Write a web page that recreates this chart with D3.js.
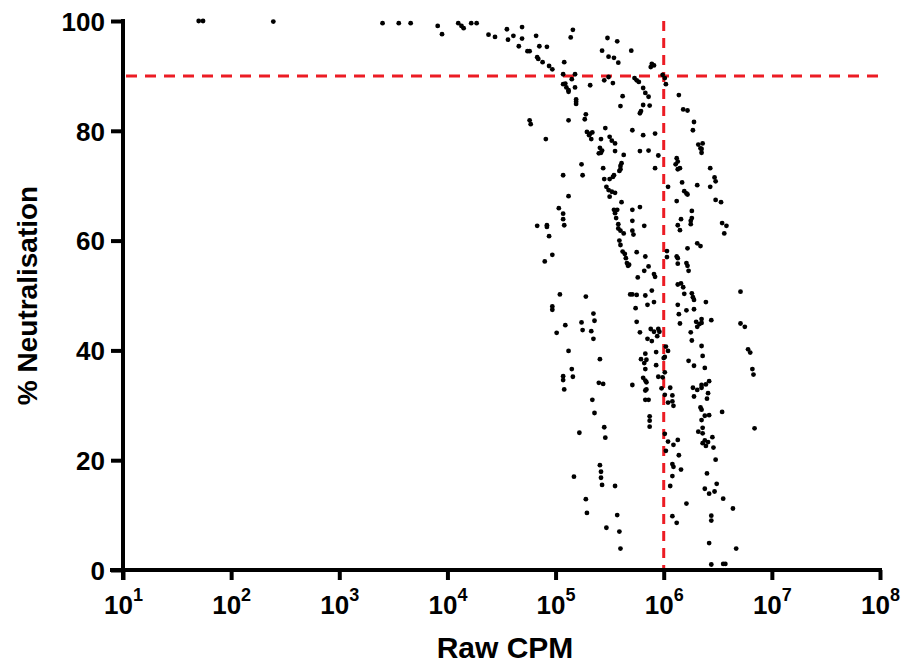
<!DOCTYPE html>
<html><head><meta charset="utf-8">
<script src="https://cdn.jsdelivr.net/npm/d3@7"></script>
<style>
html,body{margin:0;padding:0;background:#fff;}
svg{display:block;}
text{font-family:"Liberation Sans",Arial,sans-serif;font-weight:bold;fill:#000;}
.ax path,.ax line{stroke:#000;stroke-width:4px;}
</style></head>
<body>
<svg id="chart" width="905" height="666"></svg>
<script>
// [log10(Raw CPM), % Neutralisation]
const samples = [
[1.70,100],[1.74,100],[2.39,99.9],[3.40,99.6],[3.55,99.6],[3.66,99.6],[3.91,99.1],[3.95,97.6],[4.10,99.6],[4.13,99.1],[4.15,98.7],[4.22,99.6],[4.27,99.6],[4.38,97.5],[4.44,97.1],
[4.55,98.5],[4.56,96.6],[4.61,97.3],[4.69,98.9],[4.69,96.8],[4.66,95.4],[4.82,97.3],[4.85,95.4],[4.92,95.3],[4.74,94.5],[4.76,94.5],[4.83,93.4],[4.84,93.1],[4.88,92.5],[4.94,91.8],[4.97,91.2],[5.16,98.4],[5.14,97.0],[5.08,92.5],[5.07,90.3],[5.18,90.3],[5.15,89.4],[5.07,88.5],[5.09,88.6],[5.10,87.9],[5.12,87.4],[5.12,87.1],[5.18,87.9],[5.32,88.3],[5.19,85.7],[5.19,85.3],[5.19,84.9],[5.28,83.0],[5.27,82.1],[5.12,81.9],[4.76,81.9],[4.77,81.2],[5.29,79.8],[5.32,79.5],[5.34,79.7],[5.31,79.2],[5.33,78.5],[4.91,78.5],[5.24,73.9],[5.07,71.9],[5.25,71.9],[5.12,68.1],
[5.03,65.9],[5.07,64.9],[5.07,63.9],[5.08,62.8],[4.83,62.7],[4.92,62.8],[4.92,62.5],[4.94,60.8],[4.97,57.4],[4.90,56.2],[5.04,50.2],[5.28,49.8],[4.97,48.0],[4.97,47.4],[5.35,46.7],[5.36,45.4],[5.24,45.1],[5.09,44.6],[5.01,43.2],[5.25,43.7],[5.33,43.5],[5.35,42.1],[5.12,39.9],[5.15,36.6],[5.07,35.3],[5.07,34.6],[5.16,35.2],
[5.08,32.9],[5.40,34.1],[5.34,31.0],[5.36,28.6],[5.22,25.0],[5.41,19.1],[5.42,17.9],[5.17,17.0],[5.28,12.9],[5.29,10.4],[5.41,38.4],
[5.48,96.9],[5.57,96.3],[5.43,94.6],[5.70,94.6],[5.49,93.5],[5.54,93.3],[5.58,92.4],[5.89,92.2],[5.91,91.9],[5.88,91.6],[5.49,89.8],[5.45,89.2],[5.53,88.7],[5.73,89.6],[5.75,89.2],[5.77,88.9],[5.99,90.2],[6.01,89.6],[6.02,88.5],[5.81,87.8],[5.83,86.9],[5.86,86.2],[5.62,86.3],[5.60,84.5],[5.81,84.7],[5.87,84.6],[5.79,83.6],[5.78,83.2],[6.14,86.5],[5.46,80.5],[5.71,80.1],[5.81,79.2],[5.92,79.5],[5.42,78.5],[5.50,78.9],[5.52,78.2],[5.55,77.7],[5.41,76.9],[5.43,76.4],[5.40,75.9],[5.42,76.0],[5.55,76.3],[5.63,75.6],[5.78,76.3],[5.86,76.4],[5.95,75.5],[5.61,74.1],[5.60,73.6],[5.60,73.0],[5.59,72.7],[5.44,73.2],[5.92,73.2],[5.45,71.2],[5.50,71.2],[5.53,71.6],[5.54,71.9],[5.47,69.8],[5.49,69.2],[5.52,68.9],[5.55,68.7],[5.50,68.0],[6.04,69.8],
[5.61,67.0],[5.54,65.6],[5.57,65.6],[5.55,65.0],[5.56,64.1],[5.71,65.6],[5.78,66.1],[5.71,63.6],[5.82,62.7],[5.58,63.0],[5.58,62.2],[5.60,61.8],[5.63,61.3],[5.71,61.8],[5.72,61.1],[5.59,60.0],[5.60,59.2],[5.62,58.0],[5.64,57.6],[5.65,56.8],[5.75,57.9],[5.83,57.1],[5.66,55.9],[5.68,55.6],[5.67,55.4],[5.86,55.3],[5.82,54.5],[5.91,53.9],[5.92,53.4],[5.76,53.3],[6.03,58.1],[6.03,57.0],[5.69,50.2],[5.71,50.2],[5.75,50.1],[5.83,50.0],[5.89,50.9],[5.85,48.3],[5.91,48.8],[5.74,47.7],[5.75,45.2],[5.88,43.9],[5.91,43.4],[5.95,43.9],[5.96,43.4],[5.94,42.6],[5.89,41.7],[5.85,42.1],[5.78,43.3],[6.02,40.7],[6.04,39.9],[6.01,38.8],[6.00,38.6],[5.83,39.4],[5.79,38.4],[5.84,38.3],[5.82,37.7],[5.83,36.6],[5.93,39.7],[5.93,37.3],[6.01,36.0],[5.81,35.0],[5.95,35.2],[5.99,35.1],
[5.44,33.9],[5.71,33.7],[5.83,34.5],[5.84,34.2],[5.83,32.7],[5.84,32.9],[5.98,33.1],[6.06,33.2],[5.83,31.0],[5.86,31.0],[6.01,31.9],[6.08,31.8],[6.04,30.5],[6.08,30.7],[6.09,29.9],[5.87,28.0],[5.87,27.2],[5.87,26.1],[5.45,26.0],[5.46,24.1],[6.01,24.8],[6.04,23.4],[6.09,22.8],[6.02,21.7],[6.08,19.3],[6.09,18.8],[6.08,17.1],[6.06,15.3],[5.42,16.8],[5.43,15.5],[5.55,15.3],[5.57,10.0],[5.47,7.7],[5.59,7.0],[5.60,3.9],[6.08,9.8],[6.12,8.6],
[6.18,83.9],[6.22,83.7],[6.28,81.6],[6.27,80.1],[6.32,77.5],[6.36,77.7],[6.34,76.8],[6.35,76.7],[6.35,76.0],[6.12,75.0],[6.13,74.4],[6.11,73.9],[6.13,73.0],[6.15,73.2],[6.43,73.2],[6.47,71.5],[6.48,70.8],[6.17,70.6],[6.31,70.1],[6.43,69.8],[6.19,69.0],[6.21,68.6],[6.22,68.4],[6.48,67.4],
[6.12,67.2],[6.53,67.0],[6.26,65.4],[6.16,63.9],[6.13,62.8],[6.15,61.9],[6.26,64.1],[6.25,63.6],[6.25,63.0],[6.54,63.2],[6.58,62.7],[6.56,61.3],[6.31,59.5],[6.34,59.0],[6.22,58.6],[6.12,57.1],[6.13,56.8],[6.13,55.8],[6.21,55.9],[6.22,55.4],[6.23,54.5],[6.13,52.0],[6.16,52.2],[6.18,51.5],[6.71,50.7],[6.19,50.3],[6.26,50.4],[6.27,49.7],[6.28,49.2],[6.39,48.8],[6.13,48.3],[6.21,47.3],[6.28,47.5],[6.14,46.6],[6.15,44.9],[6.30,45.2],[6.33,44.8],[6.35,45.7],[6.35,45.0],[6.31,44.3],[6.44,45.5],[6.71,44.9],[6.75,44.3],[6.25,43.3],[6.26,41.8],[6.35,40.8],[6.36,39.0],[6.23,38.1],[6.28,37.2],[6.38,36.8],[6.78,40.2],[6.80,39.6],[6.82,36.6],[6.83,35.6],
[6.27,33.2],[6.31,32.8],[6.35,33.2],[6.35,33.7],[6.39,33.8],[6.42,34.4],[6.41,32.2],[6.40,31.2],[6.28,31.6],[6.34,29.6],[6.35,29.2],[6.54,28.8],[6.38,28.1],[6.42,28.2],[6.35,27.3],[6.36,25.9],[6.32,25.2],[6.36,24.9],[6.45,24.2],[6.84,25.8],[6.38,23.6],[6.36,23.1],[6.39,22.6],[6.41,23.3],[6.46,22.3],[6.48,20.1],[6.13,23.7],[6.14,20.9],[6.16,18.3],[6.40,17.6],[6.49,15.7],[6.38,14.8],[6.42,13.9],[6.47,14.3],[6.55,13.0],[6.21,12.1],[6.64,11.2],[6.44,9.9],[6.44,9.0],[6.42,4.9],[6.67,3.9],[6.44,1.0],[6.55,1.1],[6.57,1.1]
];
const xTickExponents = [1,2,3,4,5,6,7,8];
const yTicks = [0,20,40,60,80,100];
const thresholdNeutralisation = 90;
const thresholdCPM = 1e6;
const xTitle = "Raw CPM";
const yTitle = "% Neutralisation";

const svg = d3.select("#chart");
const x = d3.scaleLog().domain([1e1, 1e8]).range([123, 880]);
const y = d3.scaleLinear().domain([0, 100]).range([570, 21]);

// threshold lines
svg.append("line").attr("x1", x(1e1) + 3).attr("x2", x(1e8))
  .attr("y1", y(thresholdNeutralisation)).attr("y2", y(thresholdNeutralisation))
  .style("stroke", "#ec1c24").style("stroke-width", "3px").style("stroke-dasharray", "11,8");
svg.append("line").attr("x1", x(thresholdCPM)).attr("x2", x(thresholdCPM))
  .attr("y1", y(100)).attr("y2", y(0))
  .style("stroke", "#ec1c24").style("stroke-width", "3px").style("stroke-dasharray", "10,7");

// points
svg.append("g").selectAll("circle").data(samples).join("circle")
  .attr("cx", d => x(Math.pow(10, d[0])))
  .attr("cy", d => y(d[1]))
  .attr("r", 2.4).attr("fill", "#000");

// x axis
const xAxis = d3.axisBottom(x)
  .tickValues(xTickExponents.map(e => Math.pow(10, e)))
  .tickSize(10).tickFormat(() => "");
const gx = svg.append("g").attr("class", "ax").attr("transform", `translate(0,${y(0)})`).call(xAxis);
gx.select(".domain").attr("d", `M${x(1e1)-13},0H${x(1e8)+2}`);
gx.selectAll(".tick").each(function(v, i) {
  const t = d3.select(this).append("text").attr("y", 44).attr("text-anchor", "middle")
    .style("font-size", "26px");
  t.append("tspan").text("10");
  t.append("tspan").attr("dy", -13).style("font-size", "18px").text(xTickExponents[i]);
});

// y axis
const yAxis = d3.axisLeft(y).tickValues(yTicks).tickSize(12).tickFormat(d3.format("d"));
const gy = svg.append("g").attr("class", "ax").attr("transform", `translate(${x(1e1)},0)`).call(yAxis);
gy.select(".domain").attr("d", `M0,${y(100)-2}V${y(0)+10}`);
gy.selectAll(".tick text").attr("x", -18).attr("dy", "0.36em")
  .style("font-size", "26px").style("font-family", "'Liberation Sans',Arial,sans-serif").style("font-weight", "bold");

// titles
svg.append("text").attr("x", 505).attr("y", 658).attr("text-anchor", "middle")
  .style("font-size", "30px").text(xTitle);
svg.append("text").attr("transform", `translate(37,${(y(0)+y(100))/2}) rotate(-90)`)
  .attr("text-anchor", "middle").style("font-size", "28px").text(yTitle);
</script>
</body></html>
